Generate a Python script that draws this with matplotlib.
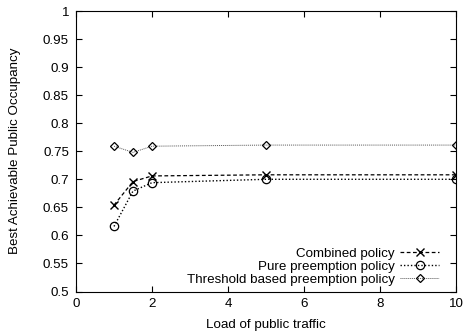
import matplotlib
matplotlib.use("Agg")
import matplotlib.pyplot as plt
from matplotlib.ticker import FuncFormatter

load = [1, 1.5, 2, 5, 10]
combined = [0.654, 0.696, 0.706, 0.708, 0.708]
pure = [0.616, 0.679, 0.694, 0.700, 0.700]
threshold = [0.759, 0.748, 0.759, 0.761, 0.761]

plt.rcParams['font.family'] = ['Liberation Sans', 'DejaVu Sans']
plt.rcParams['font.size'] = 9.6

fig = plt.figure(figsize=(4.64, 3.31), dpi=100)
ax = fig.add_axes([76 / 464, 39.5 / 331, 380 / 464, 280.5 / 331])

ax.plot(load, combined, linestyle=(0, (3, 2)), color='black', lw=0.9,
        marker='x', ms=6, mew=1.0, label='Combined policy')
ax.plot(load, pure, linestyle=(0, (1, 1.5)), color='black', lw=1.0,
        marker='o', ms=6, mfc='none', mew=0.9, label='Pure preemption policy')
ax.plot(load, threshold, linestyle=(0, (1, 1)), color='#555555', lw=0.7,
        marker='D', ms=4.5, mfc='none', mec='black', mew=0.9,
        label='Threshold based preemption policy')

ax.set_xlim(0, 10)
ax.set_ylim(0.5, 1.0)
ax.set_xticks([0, 2, 4, 6, 8, 10])
ax.set_yticks([0.5, 0.55, 0.6, 0.65, 0.7, 0.75, 0.8, 0.85, 0.9, 0.95, 1.0])
ax.yaxis.set_major_formatter(FuncFormatter(lambda v, p: '%g' % round(v, 2)))
ax.tick_params(direction='in', top=True, right=True, length=4, width=0.8, pad=5)
for s in ax.spines.values():
    s.set_linewidth(0.8)

ax.set_xlabel('Load of public traffic', labelpad=6)
ax.set_ylabel('Best Achievable Public Occupancy', labelpad=16)

ax.legend(loc='lower right', bbox_to_anchor=(0.955, 0.02), frameon=False,
          markerfirst=False, handlelength=2.9, handletextpad=0.4,
          labelspacing=0.05, borderaxespad=0.0, borderpad=0.0)

fig.savefig('out.png', dpi=100)
